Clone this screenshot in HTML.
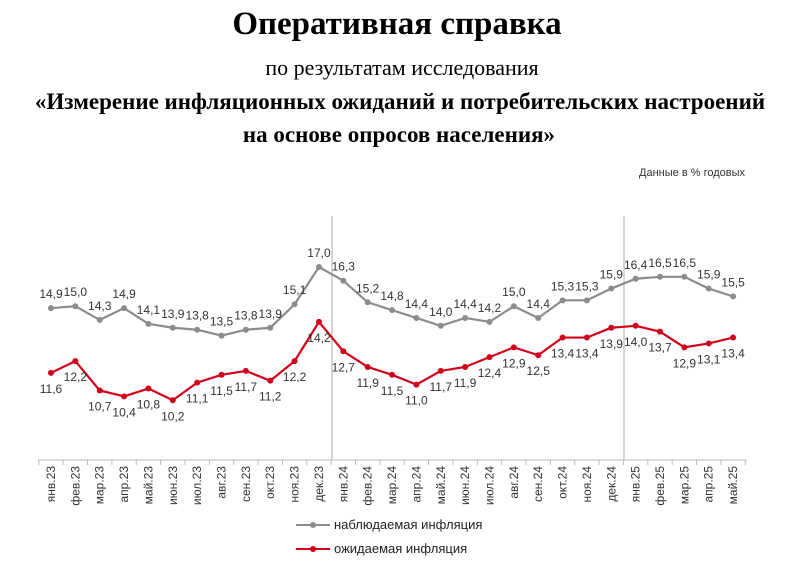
<!DOCTYPE html>
<html><head><meta charset="utf-8"><style>
body{margin:0;width:795px;height:568px;background:#fff;overflow:hidden}
</style></head><body>
<svg width="795" height="568" xmlns="http://www.w3.org/2000/svg" font-family="Liberation Sans, sans-serif">
<text x="397" y="34" text-anchor="middle" font-family="Liberation Serif, serif" font-weight="bold" font-size="33">Оперативная справка</text>
<text x="402" y="75" text-anchor="middle" font-family="Liberation Serif, serif" font-size="22">по результатам исследования</text>
<text x="400" y="109" text-anchor="middle" font-family="Liberation Serif, serif" font-weight="bold" font-size="23">«Измерение инфляционных ожиданий и потребительских настроений</text>
<text x="399" y="142" text-anchor="middle" font-family="Liberation Serif, serif" font-weight="bold" font-size="23">на основе опросов населения»</text>
<text x="745" y="176" text-anchor="end" font-size="11" fill="#333">Данные в % годовых</text>
<g id="c"></g>
</svg>
<script>
const g=document.getElementById('c');const NS='http://www.w3.org/2000/svg';
function el(t,a,txt){const e=document.createElementNS(NS,t);for(const k in a)e.setAttribute(k,a[k]);if(txt!==undefined)e.textContent=txt;g.appendChild(e);return e;}
const gray=[14.9,15.0,14.3,14.9,14.1,13.9,13.8,13.5,13.8,13.9,15.1,17.0,16.3,15.2,14.8,14.4,14.0,14.4,14.2,15.0,14.4,15.3,15.3,15.9,16.4,16.5,16.5,15.9,15.5];
const red=[11.6,12.2,10.7,10.4,10.8,10.2,11.1,11.5,11.7,11.2,12.2,14.2,12.7,11.9,11.5,11.0,11.7,11.9,12.4,12.9,12.5,13.4,13.4,13.9,14.0,13.7,12.9,13.1,13.4];
const mon=['янв','фев','мар','апр','май','июн','июл','авг','сен','окт','ноя','дек'];
const X=i=>51+i*24.36, Y=v=>267+(17-v)*19.6;
el('line',{x1:38,y1:460,x2:747,y2:460,stroke:'#bbb','stroke-width':1});
for(let i=0;i<=29;i++){const x=X(i)-12.18;el('line',{x1:x,y1:460,x2:x,y2:465,stroke:'#bbb'});}
[332,624].forEach(x=>el('line',{x1:x,y1:216,x2:x,y2:460,stroke:'#bbb','stroke-width':1.2}));
for(let i=0;i<29;i++){const y=23+Math.floor(i/12);const lab=mon[i%12]+'.'+y;const x=X(i)+4;
el('text',{x:x,y:466,'font-size':12,fill:'#333','text-anchor':'end',transform:`rotate(-90 ${x} 466)`},lab);}
function series(d,col,w,dy){el('polyline',{points:d.map((v,i)=>X(i)+','+Y(v)).join(' '),fill:'none',stroke:col,'stroke-width':w});
d.forEach((v,i)=>{el('circle',{cx:X(i),cy:Y(v),r:3,fill:col});el('text',{x:X(i),y:Y(v)+dy,'font-size':12,fill:'#333','text-anchor':'middle'},v.toFixed(1).replace('.',','));});}
series(gray,'#8c8c8c',2.2,-10);series(red,'#d0021b',2.2,20);
el('line',{x1:296,y1:525,x2:330,y2:525,stroke:'#8c8c8c','stroke-width':2});el('circle',{cx:313,cy:525,r:3,fill:'#8c8c8c'});
el('text',{x:334,y:529,'font-size':13,fill:'#222'},'наблюдаемая инфляция');
el('line',{x1:296,y1:549,x2:330,y2:549,stroke:'#d0021b','stroke-width':2});el('circle',{cx:313,cy:549,r:3,fill:'#d0021b'});
el('text',{x:334,y:553,'font-size':13,fill:'#222'},'ожидаемая инфляция');
</script>
</body></html>
